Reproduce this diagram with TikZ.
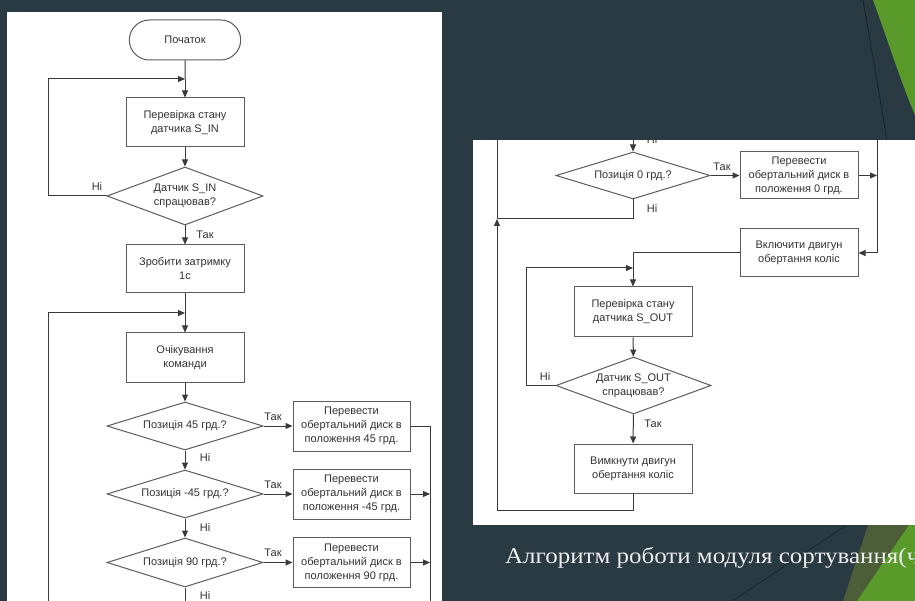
\documentclass[tikz,border=0pt]{standalone}
\usepackage{fontspec}
\setmainfont{Liberation Serif}
\setsansfont{Liberation Sans}
\usepackage{tikz}
\usetikzlibrary{positioning,arrows.meta,shapes.geometric,shapes.misc}
\definecolor{slidebg}{HTML}{2A3A42}
\definecolor{facetgreen}{HTML}{5A9A2B}
\definecolor{facetolive}{HTML}{4B5E37}
\definecolor{flowline}{HTML}{3A3A3A}
\definecolor{flowbox}{HTML}{5C5C5C}
\definecolor{flowtext}{HTML}{333333}
\definecolor{captext}{HTML}{EDEDED}

\begin{document}
\begin{tikzpicture}[x=1pt,y=-1pt,font=\sffamily\fontsize{11}{14}\selectfont,
  blk/.style={rectangle,draw=flowbox,line width=1pt,fill=white,minimum width=118pt,minimum height=49pt,inner sep=1pt,align=center,text=flowtext},
  dec/.style={diamond,aspect=2.7,draw=flowbox,line width=1pt,fill=white,minimum width=156pt,minimum height=48pt,inner sep=0pt,align=center,text=flowtext},
  term/.style={rounded rectangle,draw=flowbox,line width=1pt,fill=white,minimum width=118pt,minimum height=40pt,text=flowtext},
  lbl/.style={text=flowtext,inner sep=1pt},
  ar/.style={-{Triangle[length=7pt,width=6pt]},line width=1pt,flowline},
  ln/.style={line width=1pt,flowline}]
\useasboundingbox (0,0) rectangle (915,601);
\clip (0,0) rectangle (915,601);
% slide
\fill[slidebg] (0,0) rectangle (915,601);
\fill[facetgreen] (873,0) .. controls (886,35) and (900,80) .. (915,115) -- (915,0) -- cycle;
\draw[slidebg!60!black,line width=0.8pt] (863,0) -- (887,140);
\fill[facetolive] (868,525) -- (915,525) -- (915,601) -- (843,601) -- cycle;
\fill[facetgreen] (909,525) -- (915,525) -- (915,601) -- (857,601) -- cycle;
\draw[slidebg!60!black,line width=0.7pt] (847,525) -- (732,601);
\fill[white] (7,12) rectangle (442,601);
\fill[white] (473,140) rectangle (915,525);
% left sheet
\node[term] (start) at (185,40) {Початок};
\node[blk] (chkin) at (185,122.5) {Перевірка стану\\датчика S\_IN};
\node[dec,minimum height=58pt] (senin) at (185,196) {Датчик S\_IN\\спрацював?};
\node[blk,minimum height=48pt] (delay) at (185,269) {Зробити затримку\\1с};
\node[blk] (wait) at (185,357.5) {Очікування\\команди};
\node[dec] (q45) at (185,426) {Позиція 45 грд.?};
\node[dec] (qm45) at (185,494) {Позиція -45 грд.?};
\node[dec,minimum height=49pt] (q90) at (185,562.5) {Позиція 90 грд.?};
\node[blk,minimum width=117pt,minimum height=50pt] (r45) at (351.5,426) {Перевести\\обертальний диск в\\положення 45 грд.};
\node[blk,minimum width=117pt,minimum height=50pt] (rm45) at (351.5,494) {Перевести\\обертальний диск в\\положення -45 грд.};
\node[blk,minimum width=117pt,minimum height=50pt] (r90) at (351.5,562.5) {Перевести\\обертальний диск в\\положення 90 грд.};
\coordinate (j1) at (185,79);
\coordinate (lp1) at (48,79);
\coordinate (j2) at (185,313);
\coordinate (lp2) at (48,313);
\coordinate (lbot) at (48,610);
\coordinate (rc1) at (430,426);
\coordinate (rbot) at (430,610);
\coordinate (qbot) at (185,610);
\draw[ln] (start) -- (j1);
\draw[ar] (j1) -- (chkin);
\draw[ar] (chkin) -- (senin);
\draw[ar] (senin.west) -| (lp1) -- (j1);
\draw[ar] (senin) -- (delay);
\draw[ln] (delay) -- (j2);
\draw[ar] (lbot) -- (lp2) -- (j2);
\draw[ar] (j2) -- (wait);
\draw[ar] (wait) -- (q45);
\draw[ar] (q45) -- (qm45);
\draw[ar] (qm45) -- (q90);
\draw[ln] (q90) -- (qbot);
\draw[ar] (q45) -- (r45);
\draw[ar] (qm45) -- (rm45);
\draw[ar] (q90) -- (r90);
\draw[ln] (r45.east) -- (rc1) -- (rbot);
\draw[ar] (rm45.east) -- (rm45.east -| rc1);
\draw[ar] (r90.east) -- (r90.east -| rc1);
\node[lbl] (n1) at (97,187) {Ні};
\node[lbl] (y1) at (205,235) {Так};
\node[lbl] (y2) at (273,417) {Так};
\node[lbl] (y3) at (273,485) {Так};
\node[lbl] (y4) at (273,553) {Так};
\node[lbl] (n2) at (205,458) {Ні};
\node[lbl] (n3) at (205,528) {Ні};
\node[lbl] (n4) at (205,596) {Ні};
% right sheet
\begin{scope}
\clip (473,140) rectangle (915,525);
\node[dec,minimum width=154pt,minimum height=47pt] (q0) at (633,175.5) {Позиція 0 грд.?};
\node[blk,minimum height=47pt] (r0) at (799,175.5) {Перевести\\обертальний диск в\\положення 0 грд.};
\node[blk,minimum height=48pt] (mon) at (799,253) {Включити двигун\\обертання коліс};
\node[blk,minimum height=50pt] (chkout) at (633,312) {Перевірка стану\\датчика S\_OUT};
\node[dec,minimum width=155pt,minimum height=57pt] (senout) at (633.5,385.5) {Датчик S\_OUT\\спрацював?};
\node[blk] (moff) at (633,468.5) {Вимкнути двигун\\обертання коліс};
\coordinate (t0) at (633,130);
\coordinate (rc2) at (877,130);
\coordinate (rc3) at (877,253);
\coordinate (j3) at (633,219);
\coordinate (lp3) at (497,219);
\coordinate (lt) at (497,130);
\coordinate (j4) at (633,268);
\coordinate (lp4) at (526,268);
\coordinate (bt) at (633,510);
\draw[ar] (t0) -- (q0);
\draw[ar] (q0) -- (r0);
\draw[ar] (r0.east) -- (r0.east -| rc2);
\draw[ar] (rc2) -- (rc3) -- (mon.east);
\draw[ln] (q0.south) -- (j3) -- (lp3);
\draw[ln] (mon.west) -| (j4);
\draw[ar] (j4) -- (chkout);
\draw[ar] (chkout) -- (senout);
\draw[ar] (senout.west) -| (lp4) -- (j4);
\draw[ar] (senout) -- (moff);
\draw[ar] (moff) -- (bt) -| (lp3);
\draw[ln] (lp3) -- (lt);
\node[lbl] (n5) at (652,140) {Ні};
\node[lbl] (y5) at (722,167) {Так};
\node[lbl] (n6) at (652,209) {Ні};
\node[lbl] (n7) at (545,377) {Ні};
\node[lbl] (y6) at (653,424) {Так};
\end{scope}
% caption
\node[anchor=base west,inner sep=0pt,font=\rmfamily\fontsize{22.5}{26}\selectfont,text=captext] (cap) at (505,563) {\scalebox{1.11}[1]{Алгоритм роботи модуля сортування(ч}};
\end{tikzpicture}
\end{document}
